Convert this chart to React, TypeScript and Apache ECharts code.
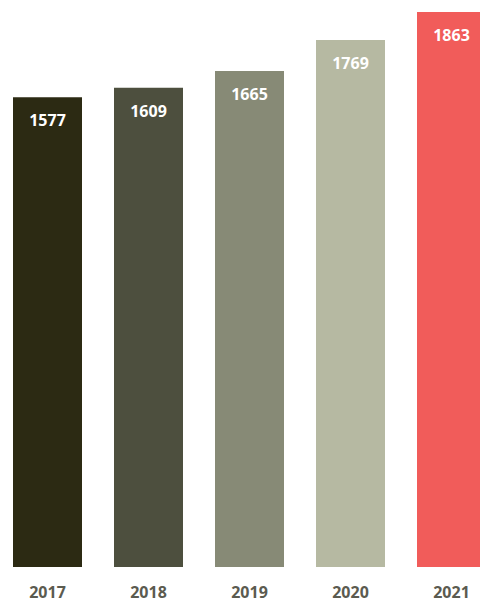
import React, { useEffect, useRef } from "react";
import * as echarts from "echarts";

const categories = ["2017", "2018", "2019", "2020", "2021"];
const values = [1577, 1609, 1665, 1769, 1863];
const colors = ["#2c2a13", "#4d4f3e", "#878a76", "#b6b9a2", "#f15c5a"];

export default function App() {
  const ref = useRef<HTMLDivElement>(null);
  useEffect(() => {
    if (!ref.current) return;
    const chart = echarts.init(ref.current, null, { renderer: "svg" });
    chart.setOption({
      animation: false,
      grid: { left: 0, right: 0, top: 12, bottom: 34, containLabel: false },
      xAxis: {
        type: "category",
        data: categories,
        axisLine: { show: false },
        axisTick: { show: false },
        axisLabel: {
          color: "#5b5b50",
          fontFamily: "Open Sans",
          fontWeight: "bold",
          fontSize: 16,
          margin: 17,
        },
      },
      yAxis: {
        type: "value",
        min: 0,
        max: 1863,
        show: false,
        splitLine: { show: false },
      },
      series: [
        {
          type: "bar",
          barWidth: 69,
          data: values.map((v, i) => ({ value: v, itemStyle: { color: colors[i] } })),
          label: {
            show: true,
            position: "insideTop",
            distance: 15,
            color: "#ffffff",
            fontFamily: "Open Sans",
            fontWeight: "bold",
            fontSize: 16,
          },
        },
      ],
    });
    return () => chart.dispose();
  }, []);
  return (
    <div style={{ position: "absolute", left: 0, top: 0, width: 480, height: 601, overflow: "hidden" }}>
      <div ref={ref} style={{ width: 505, height: 601, position: "absolute", left: -3, top: 0 }} />
    </div>
  );
}
